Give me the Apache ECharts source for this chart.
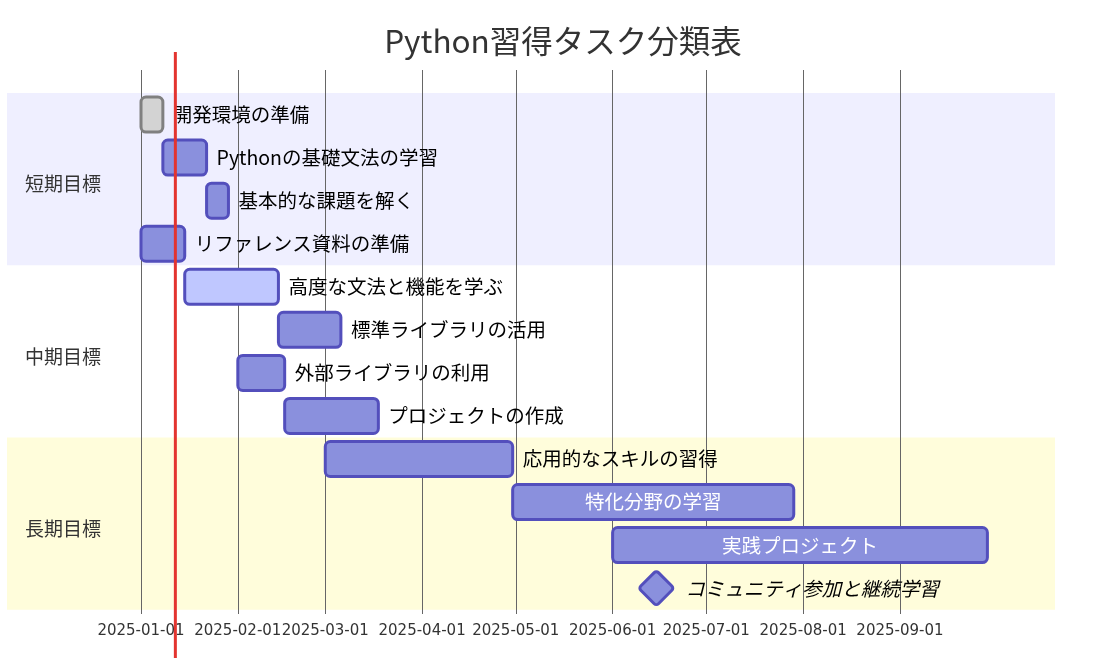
<!DOCTYPE html>
<html>
<head>
<meta charset="utf-8">
<script src="https://cdn.jsdelivr.net/npm/echarts@6/dist/echarts.min.js"></script>
<style>
    html, body { margin: 0; padding: 0; background: #fff; }
    #chart { width: 1098px; height: 662px; }
</style>
</head>
<body>
<div id="chart"></div>
<script>
const title = 'Python習得タスク分類表';
const sections = ['短期目標', '中期目標', '長期目標'];
const taskNames = [
    '開発環境の準備', 'Pythonの基礎文法の学習', '基本的な課題を解く', 'リファレンス資料の準備',
    '高度な文法と機能を学ぶ', '標準ライブラリの活用', '外部ライブラリの利用', 'プロジェクトの作成',
    '応用的なスキルの習得', '特化分野の学習', '実践プロジェクト', 'コミュニティ参加と継続学習',
];
const taskSection = [0, 0, 0, 0, 1, 1, 1, 1, 2, 2, 2, 2];
const taskStart = [
    '2025-01-01', '2025-01-08', '2025-01-22', '2025-01-01',
    '2025-01-15', '2025-02-14', '2025-02-01', '2025-02-16',
    '2025-03-01', '2025-04-30', '2025-06-01', '2025-06-15',
];
const taskEnd = [
    '2025-01-08', '2025-01-22', '2025-01-29', '2025-01-15',
    '2025-02-14', '2025-03-06', '2025-02-16', '2025-03-18',
    '2025-04-30', '2025-07-29', '2025-09-29', '2025-06-15',
];
const taskStatus = ['done', '', '', '', 'active', '', '', '', '', '', '', 'milestone'];
const today = '2025-01-12';
const axisMin = '2025-01-01';
const axisMax = '2025-09-29';

const DAY = 86400000;
const labelFont = '19.5px "Noto Sans CJK JP", sans-serif';
const measureCtx = document.createElement('canvas').getContext('2d');
const textWidth = (t, font) => { measureCtx.font = font; return measureCtx.measureText(t).width; };

// section bands: first and last row of each section
const sectionData = sections.map((name, s) => {
    const rows = taskSection.map((v, i) => (v === s ? i : -1)).filter((i) => i >= 0);
    return [s, rows[0], rows[rows.length - 1]];
});
const bandColors = ['rgba(102,102,255,0.1)', 'rgba(255,255,255,0)', 'rgba(255,244,0,0.14)'];

const taskData = taskNames.map((n, i) => [i, taskStart[i], taskEnd[i]]);

const chart = echarts.init(document.getElementById('chart'));
chart.setOption({
    animation: false,
    title: {
        text: title,
        left: 558,
        top: 20,
        textAlign: 'center',
        textStyle: { fontSize: 31.5, fontWeight: 'normal', color: '#333', fontFamily: '"Noto Sans CJK JP", sans-serif' },
    },
    grid: { left: 141, right: 110.6, top: 70, bottom: 48 },
    xAxis: {
        type: 'time',
        min: axisMin,
        max: axisMax,
        minInterval: 28 * DAY,
        maxInterval: 31 * DAY,
        axisLine: { show: false },
        axisTick: { show: false },
        splitLine: { show: true, showMaxLine: false, lineStyle: { color: '#666', width: 1 } },
        axisLabel: {
            margin: 10,
            color: '#333',
            fontSize: 15,
            fontFamily: '"DejaVu Sans", sans-serif',
            hideOverlap: false,
            formatter: (v) => echarts.time.format(v, '{yyyy}-{MM}-{dd}', false),
        },
    },
    yAxis: {
        type: 'value',
        inverse: true,
        min: -1.035,
        max: 11.6,
        show: false,
    },
    series: [
        {
            type: 'custom',
            z: -1,
            silent: true,
            data: sectionData,
            renderItem(params, api) {
                const s = api.value(0);
                const y0 = api.coord([0, api.value(1) - 0.5])[1];
                const y1 = api.coord([0, api.value(2) + 0.5])[1];
                return {
                    type: 'group',
                    children: [
                        {
                            type: 'rect',
                            shape: { x: 7, y: y0, width: 1048, height: y1 - y0 },
                            style: { fill: bandColors[s % 3] },
                        },
                        {
                            type: 'text',
                            style: {
                                x: 25, y: (y0 + y1) / 2 + 5,
                                text: sections[s],
                                font: '19px "Noto Sans CJK JP", sans-serif',
                                fill: '#333',
                                verticalAlign: 'middle',
                            },
                        },
                    ],
                };
            },
        },
        {
            type: 'custom',
            data: taskData,
            encode: { x: [1, 2], y: 0 },
            renderItem(params, api) {
                const i = api.value(0);
                const p0 = api.coord([api.value(1), i]);
                const p1 = api.coord([api.value(2), i]);
                const status = taskStatus[i];
                const name = taskNames[i];
                const children = [];
                if (status === 'milestone') {
                    const side = 25;
                    children.push({
                        type: 'rect',
                        x: p0[0], y: p0[1],
                        rotation: Math.PI / 4,
                        shape: { x: -side / 2, y: -side / 2, width: side, height: side, r: 3 },
                        style: { fill: '#8a90dd', stroke: '#534fbc', lineWidth: 3 },
                    });
                    children.push({
                        type: 'text',
                        style: {
                            x: p0[0] + 29, y: p0[1],
                            text: name,
                            font: 'italic ' + labelFont,
                            fill: '#000',
                            verticalAlign: 'middle',
                        },
                    });
                    return { type: 'group', children };
                }
                const h = 35;
                const w = p1[0] - p0[0];
                let fill = '#8a90dd', stroke = '#534fbc';
                if (status === 'done') { fill = '#d3d3d3'; stroke = '#808080'; }
                if (status === 'active') { fill = '#bfc7ff'; stroke = '#534fbc'; }
                children.push({
                    type: 'rect',
                    shape: { x: p0[0], y: p0[1] - h / 2, width: w, height: h, r: 5 },
                    style: { fill, stroke, lineWidth: 3 },
                });
                const inside = w > textWidth(name, labelFont) + 40;
                children.push({
                    type: 'text',
                    style: {
                        x: inside ? p0[0] + w / 2 : p1[0] + 10,
                        y: p0[1],
                        text: name,
                        font: labelFont,
                        fill: inside ? '#fff' : '#000',
                        align: inside ? 'center' : 'left',
                        verticalAlign: 'middle',
                    },
                });
                return { type: 'group', children };
            },
        },
        {
            type: 'custom',
            data: [[today]],
            encode: { x: 0 },
            renderItem(params, api) {
                const x = api.coord([api.value(0), 0])[0];
                return {
                    type: 'line',
                    shape: { x1: x, y1: 52, x2: x, y2: 658 },
                    style: { stroke: '#e3342f', lineWidth: 3 },
                };
            },
        },
    ],
});
</script>
</body>
</html>
